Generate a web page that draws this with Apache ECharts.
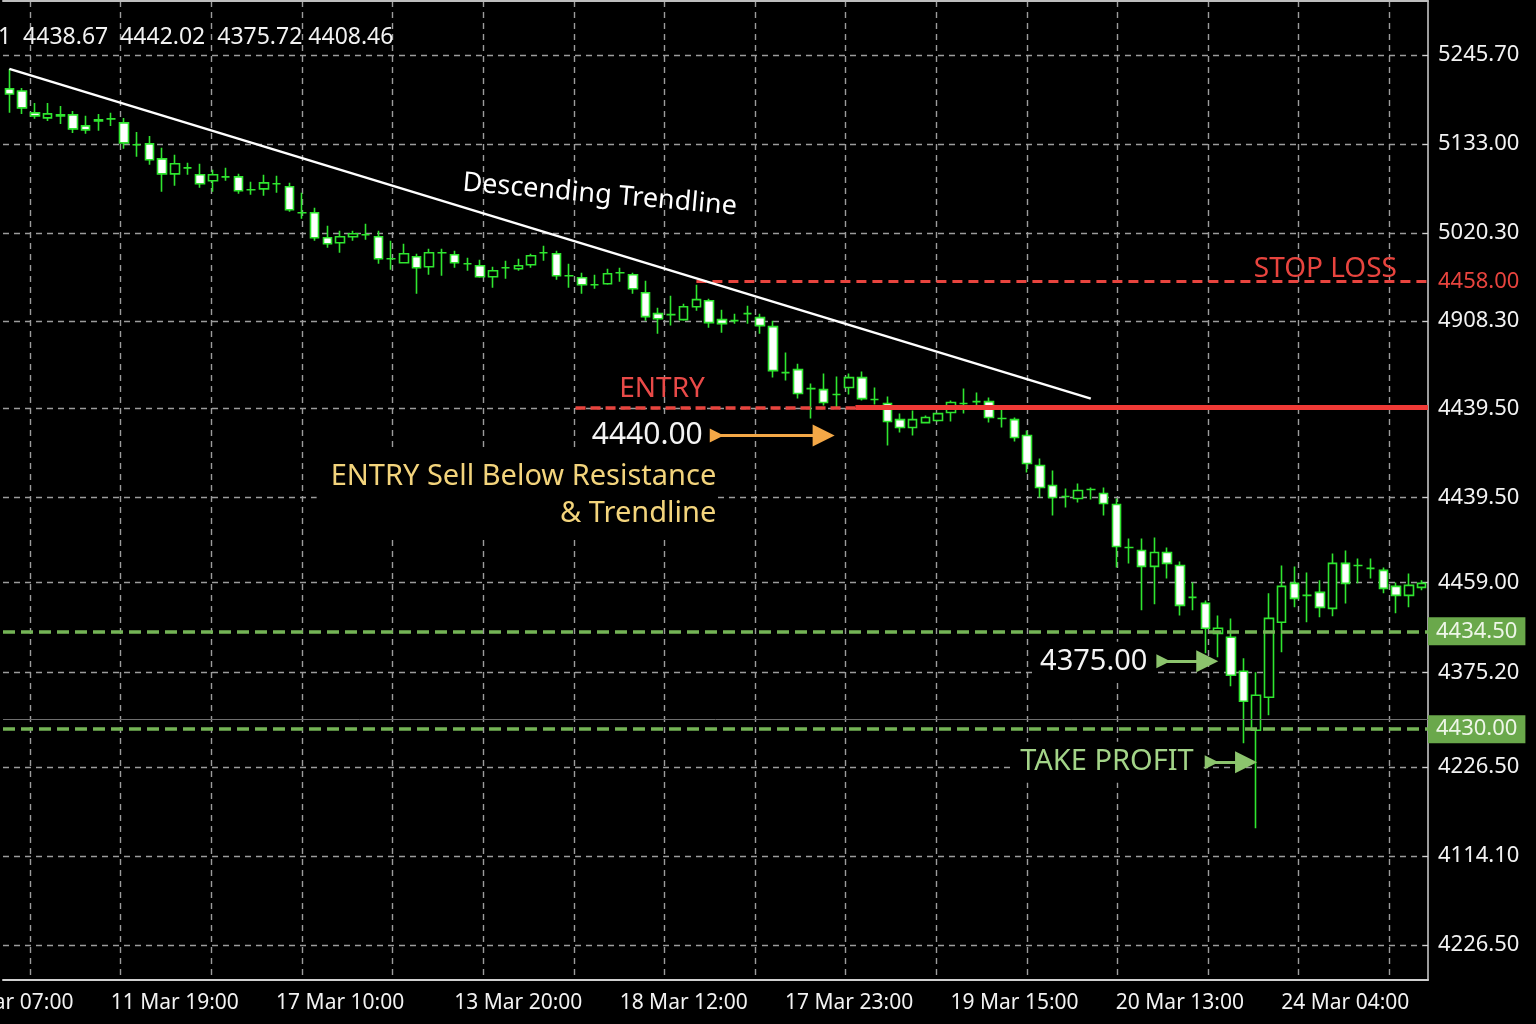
<!DOCTYPE html>
<html>
<head>
<meta charset="utf-8">
<script src="https://cdn.jsdelivr.net/npm/echarts@6/dist/echarts.min.js"></script>
<style>
html,body{margin:0;padding:0;background:#000;}
#chart{width:1536px;height:1024px;}
</style>
</head>
<body>
<div id="chart"></div>
<script>
// ---- data ----
const ohlcHeader = '1  4438.67  4442.02  4375.72 4408.46';
const tickLabels = ['10 Mar 07:00','11 Mar 19:00','17 Mar 10:00','13 Mar 20:00','18 Mar 12:00','17 Mar 23:00','19 Mar 15:00','20 Mar 13:00','24 Mar 04:00'];
const tickIndex  = [0,13,26,40,53,66,79,92,105];

const open = [5202.7,5200.1,5172.3,5165.9,5169.7,5169.7,5155.8,5163.4,5164.7,5159.6,
5131.8,5133.0,5114.0,5095.0,5102.6,5093.8,5086.2,5091.2,5091.2,5074.8,
5076.0,5082.4,5078.6,5045.6,5045.6,5014.0,5007.7,5015.3,5017.8,5015.3,
4987.4,4982.3,4989.9,4977.3,4995.0,4992.5,4981.1,4978.5,4964.6,4976.0,
4974.7,4979.8,4995.0,4993.7,4965.9,4963.3,4954.5,4955.7,4969.7,4967.1,
4944.3,4917.8,4916.5,4910.2,4926.6,4934.2,4910.2,4908.9,4917.8,4912.7,
4901.3,4843.0,4846.8,4822.8,4821.5,4815.2,4824.1,4836.7,4808.9,4803.8,
4783.5,4773.4,4779.7,4782.3,4792.4,4803.8,4806.3,4806.3,4784.8,4783.5,
4763.3,4725.3,4700.0,4686.0,4683.5,4694.9,4689.8,4675.9,4621.4,4617.6,
4597.4,4615.1,4598.6,4558.1,4550.5,4512.5,4507.5,4464.4,4389.7,4431.5,
4526.5,4575.9,4560.7,4564.5,4544.2,4601.2,4598.6,4594.9,4592.3,4572.1,
4560.7,4570.8];
const close = [5196.3,5178.6,5168.5,5171.0,5168.5,5152.0,5150.7,5162.1,5164.7,5134.3,
5131.8,5112.8,5095.0,5107.7,5102.6,5082.4,5093.8,5091.2,5073.5,5074.8,
5083.6,5082.4,5049.4,5045.6,5014.0,5006.4,5015.3,5019.0,5017.8,4987.4,
4987.4,4993.7,4976.0,4995.0,4995.0,4982.3,4981.1,4964.6,4972.2,4976.0,
4978.5,4991.2,4995.0,4965.9,4965.9,4954.5,4954.5,4968.4,4969.7,4949.4,
4914.0,4911.4,4916.5,4926.6,4935.5,4906.4,4905.1,4908.9,4917.8,4902.6,
4845.6,4843.0,4816.5,4822.8,4805.1,4815.2,4836.7,4810.1,4808.9,4781.0,
4773.4,4783.5,4786.1,4791.1,4805.1,4803.8,4806.3,4786.1,4784.8,4760.7,
4727.8,4697.4,4684.8,4686.0,4693.6,4694.9,4677.2,4622.7,4621.4,4597.4,
4615.1,4601.2,4548.0,4558.1,4518.9,4518.9,4459.4,4426.4,4434.0,4531.5,
4572.1,4556.9,4560.7,4545.5,4601.2,4575.9,4598.6,4594.9,4569.5,4560.7,
4573.3,4575.9];
const low = [5172.3,5171.0,5164.7,5162.1,5158.3,5146.9,5145.7,5149.5,5155.8,5126.7,
5116.6,5106.4,5072.2,5079.8,5093.8,5077.3,5072.2,5086.2,5069.7,5068.4,
5067.2,5071.0,5046.9,5038.0,5010.2,5001.3,4995.0,5010.2,5011.5,4981.1,
4973.5,4982.3,4943.1,4967.1,4965.9,4976.0,4972.2,4963.3,4950.7,4962.1,
4972.2,4976.0,4984.9,4960.8,4950.7,4943.1,4949.4,4954.5,4958.3,4943.1,
4908.9,4892.4,4902.6,4908.9,4921.6,4900.0,4893.7,4905.1,4905.1,4892.4,
4836.7,4832.9,4810.1,4784.8,4801.3,4798.7,4815.2,4807.6,4802.5,4750.6,
4767.1,4763.3,4778.5,4781.0,4781.0,4791.1,4798.7,4779.7,4773.4,4755.7,
4716.4,4684.8,4662.0,4672.1,4678.4,4682.2,4662.0,4596.1,4601.2,4541.7,
4549.3,4582.2,4535.3,4541.7,4487.2,4482.2,4445.4,4373.3,4265.6,4408.7,
4488.5,4545.5,4526.5,4532.8,4534.1,4550.5,4575.9,4582.2,4563.2,4537.9,
4545.5,4567.0];
const high = [5228.0,5203.9,5184.9,5184.9,5181.1,5174.8,5168.5,5171.0,5172.3,5165.9,
5148.2,5143.1,5128.0,5119.1,5109.0,5107.7,5100.1,5102.6,5095.0,5084.9,
5093.8,5092.5,5083.6,5071.0,5052.0,5029.2,5022.9,5022.9,5031.7,5022.9,
5010.2,5006.4,4993.7,5000.1,5000.1,4997.5,4988.7,4986.1,4977.3,4984.9,
4987.4,4993.7,5003.9,4997.5,4981.1,4969.7,4967.1,4974.7,4976.0,4969.7,
4959.5,4925.4,4940.5,4930.4,4954.5,4936.7,4922.8,4917.8,4927.9,4917.8,
4908.9,4868.4,4854.4,4829.1,4841.8,4838.0,4841.8,4844.3,4824.1,4812.7,
4791.1,4794.9,4788.6,4791.1,4807.6,4822.8,4817.7,4811.4,4796.2,4786.1,
4769.6,4734.1,4718.9,4696.2,4702.5,4697.4,4697.4,4683.5,4632.8,4632.8,
4634.1,4621.4,4603.7,4577.1,4554.3,4535.3,4531.5,4480.9,4463.2,4563.2,
4598.6,4597.4,4589.8,4579.7,4613.8,4617.6,4607.5,4607.5,4596.1,4577.1,
4588.5,4579.7];

const priceTicks      = [5245.7, 5133.0, 5020.3, 4908.3, 4797.5, 4684.8, 4577.1, 4463.2, 4342.9, 4230.2, 4117.5];
const priceTickLabels = ['5245.70','5133.00','5020.30','4908.30','4439.50','4439.50','4459.00','4375.20','4226.50','4114.10','4226.50'];

const stopLoss = 4958.3, entryLevel = 4798.7, tp1 = 4515.1, tp2 = 4391.0, lastPrice = 4403.6;
const stopLossText = '4458.00', tp1Text = '4434.50', tp2Text = '4430.00';
const trendStart = [0, 5228.0], trendEnd = [85, 4810.1];
const entryArrowLevel = 4763.3, tp1ArrowLevel = 4477.1, tp2ArrowLevel = 4349.2;

// ---- styling / layout helpers ----
const gridCols = [1.62, 8.74, 15.87, 22.99, 30.11, 37.24, 44.36, 51.48, 58.60, 65.73, 72.85, 79.97, 87.10, 94.22, 101.34, 108.47];
const FONT = "'Noto Sans', 'Open Sans', sans-serif";
const G = '#2fe52f';
const RED = '#e8443e';
const TPG = '#74b456';
const gridDash = {color: '#9c9c9c', type: [6, 5], width: 1.4};
const tail = 'path://M0,0L12,0L6,10Z';

const cats = open.map((_, i) => String(i));
const candles = open.map((o, i) => [o, close[i], low[i], high[i]]);

function yLabel(v) {
  let k = 0, d = Infinity;
  priceTicks.forEach((t, i) => { const e = Math.abs(t - v); if (e < d) { d = e; k = i; } });
  return priceTickLabels[k];
}

const chart = echarts.init(document.getElementById('chart'), null, {renderer: 'canvas'});
chart.setOption({
  backgroundColor: '#000',
  animation: false,
  title: {
    text: ohlcHeader, left: -2, top: 26, padding: 0,
    textStyle: {color: '#f2f2f2', fontSize: 23, fontWeight: 'normal', fontFamily: FONT}
  },
  grid: {left: 3, right: 108, top: 1, bottom: 44, containLabel: false, outerBoundsMode: 'none'},
  xAxis: [
    {
      type: 'category', data: cats, boundaryGap: true,
      axisLine: {show: true, onZero: false, lineStyle: {color: '#cfcfcf', width: 2}},
      axisTick: {show: false},
      splitLine: {show: false},
      axisLabel: {
        interval: (i) => tickIndex.indexOf(i) >= 0,
        formatter: (v, i) => { const k = tickIndex.indexOf(Number(v)); return k >= 0 ? tickLabels[k] : ''; },
        color: '#f2f2f2', fontSize: 21, fontFamily: FONT, margin: 13, hideOverlap: false
      }
    },
    {
      type: 'value', min: -0.5, max: 111.5, position: 'top',
      axisLine: {show: true, onZero: false, lineStyle: {color: '#bdbdbd', width: 2}},
      axisTick: {show: false, customValues: gridCols},
      axisLabel: {show: false, customValues: gridCols},
      splitLine: {show: true, lineStyle: gridDash}
    }
  ],
  yAxis: {
    type: 'value', position: 'right', min: 4073.1, max: 5314.1,
    axisLine: {show: true, onZero: false, lineStyle: {color: '#d0d0d0', width: 1.5}},
    axisTick: {show: true, inside: true, length: 5, customValues: priceTicks, lineStyle: {color: '#d0d0d0'}},
    axisLabel: {customValues: priceTicks, formatter: yLabel, color: '#f2f2f2', fontSize: 22, fontFamily: FONT, margin: 10},
    splitLine: {show: true, lineStyle: gridDash}
  },
  series: [
    {
      type: 'candlestick', xAxisIndex: 0, yAxisIndex: 0,
      data: candles, barWidth: 9,
      itemStyle: {color: '#000', color0: '#ffffff', borderColor: G, borderColor0: G, borderColorDoji: G, borderWidth: 1.6}
    },
    {
      type: 'line', xAxisIndex: 1, yAxisIndex: 0, data: [], silent: true,
      markLine: {
        silent: true, animation: false, symbol: ['none', 'none'],
        data: [
          {yAxis: lastPrice, lineStyle: {color: '#6f6f6f', type: 'solid', width: 1}, label: {show: false}},
          {yAxis: tp1, lineStyle: {color: TPG, type: [12, 6], width: 3.5},
            label: {show: true, position: 'end', distance: 0, formatter: tp1Text, color: '#eef6e8', backgroundColor: '#6aa84b',
              fontSize: 22, fontFamily: FONT, lineHeight: 24, padding: [2, 8, 2, 8]}},
          {yAxis: tp2, lineStyle: {color: TPG, type: [12, 6], width: 3.5},
            label: {show: true, position: 'end', distance: 0, formatter: tp2Text, color: '#eef6e8', backgroundColor: '#6aa84b',
              fontSize: 22, fontFamily: FONT, lineHeight: 24, padding: [2, 8, 2, 8]}},
          [{coord: [54, stopLoss], lineStyle: {color: RED, type: [10, 6], width: 3},
            label: {show: true, position: 'end', distance: 10, formatter: stopLossText, color: RED, fontSize: 22, fontFamily: FONT}},
           {coord: [111.5, stopLoss]}],
          [{coord: [44.5, entryLevel], lineStyle: {color: RED, type: [10, 5], width: 3.5}, label: {show: false}},
           {coord: [66.5, entryLevel]}],
          [{coord: [66.5, entryLevel], lineStyle: {color: '#f03a36', type: 'solid', width: 5}, label: {show: false}},
           {coord: [111.5, entryLevel]}],
          [{coord: trendStart, lineStyle: {color: '#ffffff', type: 'solid', width: 2.5}, label: {show: false}},
           {coord: trendEnd}],
          [{coord: [55.6, entryArrowLevel], symbol: tail, symbolSize: 14,
            lineStyle: {color: '#f4a847', type: 'solid', width: 3},
            label: {show: true, position: 'start', distance: 8, formatter: '4440.00', color: '#f4f4f4', fontSize: 30, fontFamily: FONT,
              backgroundColor: '#000', padding: [3, 6]}},
           {coord: [64.0, entryArrowLevel], symbol: 'triangle', symbolSize: 22}],
          [{coord: [90.7, tp1ArrowLevel], symbol: tail, symbolSize: 14,
            lineStyle: {color: '#8cc46d', type: 'solid', width: 3},
            label: {show: true, position: 'start', distance: 8, formatter: '4375.00', color: '#f4f4f4', fontSize: 29, fontFamily: FONT,
              backgroundColor: '#000', padding: [5, 8]}},
           {coord: [94.15, tp1ArrowLevel], symbol: 'triangle', symbolSize: 22}],
          [{coord: [94.5, tp2ArrowLevel], symbol: tail, symbolSize: 14,
            lineStyle: {color: '#8cc46d', type: 'solid', width: 3},
            label: {show: true, position: 'start', distance: 8, formatter: 'TAKE PROFIT', color: '#a3d488', fontSize: 29, fontFamily: FONT,
              backgroundColor: '#000', padding: [6, 10]}},
           {coord: [97.2, tp2ArrowLevel], symbol: 'triangle', symbolSize: 22}]
        ]
      },
      markPoint: {
        silent: true, animation: false, symbol: 'circle', symbolSize: 1,
        itemStyle: {color: 'rgba(0,0,0,0)'},
        data: [
          {coord: [46.4, 5068.4], label: {show: true, position: 'inside', formatter: 'Descending Trendline', rotate: -5,
            color: '#ffffff', fontSize: 27, fontFamily: FONT}},
          {coord: [51.3, 4822.8], label: {show: true, position: 'inside', formatter: 'ENTRY', color: '#e94a48', fontSize: 28, fontFamily: FONT}},
          {coord: [55.6, 4688.0], label: {show: true, position: 'left', distance: 0,
            formatter: 'ENTRY Sell Below Resistance\n& Trendline', align: 'right', lineHeight: 37,
            color: '#f3d47c', fontSize: 29, fontFamily: FONT, backgroundColor: '#000', padding: [6, 0, 6, 14]}},
          {coord: [109.1, 4974.7], label: {show: true, position: 'left', distance: 0, formatter: 'STOP LOSS',
            color: RED, fontSize: 28, fontFamily: FONT}}
        ]
      }
    }
  ]
});
</script>
</body>
</html>
